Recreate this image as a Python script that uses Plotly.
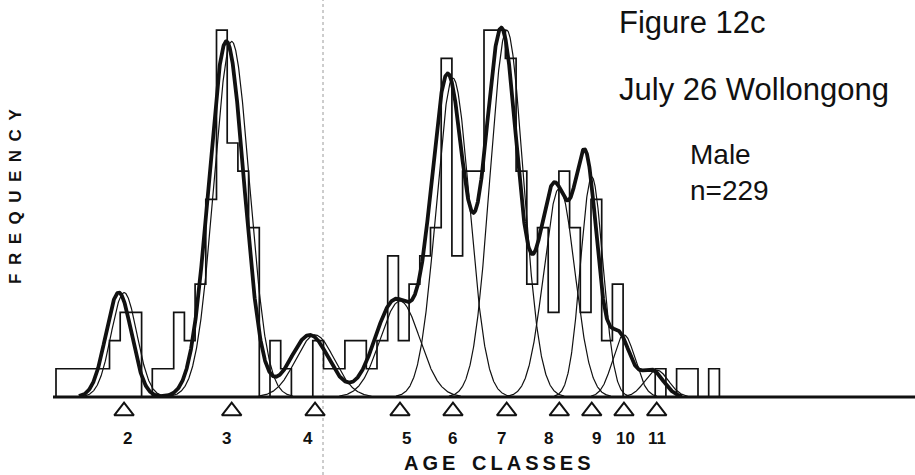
import numpy as np
import plotly.graph_objects as go

# Size-frequency counts, one value per size bin (bin k spans k .. k+1); n = 229
counts = [1, 1, 1, 1, 1, 2, 3, 3, 0, 1,
          1, 3, 2, 4, 7, 13, 9, 8, 6, 0,
          2, 1, 0, 0, 2, 1, 1, 2, 2, 1,
          2, 5, 2, 4, 5, 6, 12, 5, 8, 8,
          13, 13, 12, 8, 4, 6, 3, 8, 6, 3,
          7, 2, 4, 0, 0, 0, 1, 0, 1, 1,
          0, 1]

# Fitted normal components, one per age class
age_classes = ["2", "3", "4", "5", "6", "7", "8", "9", "10", "11"]
comp_mean = [6.36, 16.42, 24.21, 32.15, 37.10, 42.12, 47.04, 50.07, 53.08, 56.14]
comp_sd = [1.20, 1.65, 1.80, 1.85, 1.55, 1.55, 1.45, 1.05, 1.05, 1.10]
comp_peak = [3.7, 12.6, 2.2, 3.4, 11.3, 13.0, 7.4, 7.8, 2.2, 0.95]

INK = "#111111"
FONT = "Liberation Sans, Arial, Helvetica, sans-serif"
X_RANGE = [-0.28, 80.28]
Y_RANGE = [-2.764, 13.5]

fig = go.Figure()

# histogram drawn as a stepped outline
edges = np.arange(len(counts) + 1)
hx = [edges[0]] + list(edges[:-1]) + [edges[-1]]
hy = [0] + list(counts) + [0]
fig.add_trace(go.Scatter(x=hx, y=hy, mode="lines", line_shape="hv",
                         line=dict(color=INK, width=1.7), hoverinfo="skip"))

# individual components (thin) and their total (thick)
grid = np.linspace(0, 64, 2561)
total = np.zeros_like(grid)
for m, s, a in zip(comp_mean, comp_sd, comp_peak):
    g = a * np.exp(-0.5 * ((grid - m) / s) ** 2)
    total += g
    keep = g > 0.03
    fig.add_trace(go.Scatter(x=grid[keep], y=g[keep], mode="lines",
                             line=dict(color=INK, width=1.2), hoverinfo="skip"))

keep = total > 0.03
# total curve plotted against the lower edge of each bin
fig.add_trace(go.Scatter(x=grid[keep] - 0.5, y=total[keep], mode="lines",
                         line=dict(color=INK, width=3.8), hoverinfo="skip"))

# open triangles marking each component mean
fig.add_trace(go.Scatter(x=comp_mean, y=[-0.5] * len(comp_mean), mode="markers",
                         marker=dict(symbol="triangle-up-open", size=17,
                                     color=INK, line=dict(width=2, color=INK)),
                         hoverinfo="skip"))

label_nudge = [0.35, -0.47, -0.7, 0.56, 0.0, -0.47, -1.05, 0.47, 0.1, 0.0]
annotations = []
for lab, m, dx in zip(age_classes, comp_mean, label_nudge):
    annotations.append(dict(x=m + dx, y=-1.47, xref="x", yref="y", text=f"<b>{lab}</b>",
                            showarrow=False, font=dict(family=FONT, size=17, color=INK),
                            xanchor="center", yanchor="middle"))


def px_to_paper_x(px):
    return (px - 53) / 862


def px_to_paper_y(py):
    return (475 - py) / 459


texts = [
    ("Figure 12c", 617, 22.5, 31),
    ("July 26 Wollongong", 617, 90, 31),
]
for t, x, y, sz in texts:
    annotations.append(dict(x=px_to_paper_x(x), y=px_to_paper_y(y), xref="paper", yref="paper",
                            text=t, showarrow=False, xanchor="left", yanchor="middle",
                            font=dict(family=FONT, size=sz, color=INK)))
annotations.append(dict(x=px_to_paper_x(688), y=px_to_paper_y(172), xref="paper", yref="paper",
                        text=f"Male<br>n={sum(counts)}", showarrow=False, xanchor="left",
                        yanchor="middle", align="left",
                        font=dict(family=FONT, size=28, color=INK)))

gap = "\u2009"
word_gap = "\u00a0\u00a0\u00a0"
axis_title = word_gap.join(gap.join(word) for word in ["AGE", "CLASSES"])
annotations.append(dict(x=px_to_paper_x(402), y=px_to_paper_y(462.5), xref="paper", yref="paper",
                        text=f"<b>{axis_title}</b>",
                        showarrow=False, xanchor="left", yanchor="middle",
                        font=dict(family=FONT, size=20, color=INK)))
annotations.append(dict(x=px_to_paper_x(16), y=px_to_paper_y(197), xref="paper", yref="paper",
                        text="<b>" + "\u2002".join("FREQUENCY") + "</b>",
                        showarrow=False, textangle=-90, xanchor="center", yanchor="middle",
                        font=dict(family=FONT, size=17, color=INK)))

shapes = [
    # baseline
    dict(type="line", xref="paper", yref="y", x0=0, x1=1, y0=0, y1=0,
         line=dict(color=INK, width=3)),
    # faint vertical fold line
    dict(type="line", xref="paper", yref="paper", x0=px_to_paper_x(323), x1=px_to_paper_x(323),
         y0=0, y1=px_to_paper_y(0), line=dict(color="#9a9a9a", width=1, dash="dot"),
         layer="below"),
]

fig.update_layout(
    width=915, height=475,
    margin=dict(l=53, r=0, t=16, b=0),
    paper_bgcolor="white", plot_bgcolor="white",
    showlegend=False,
    xaxis=dict(range=X_RANGE, visible=False, fixedrange=True),
    yaxis=dict(range=Y_RANGE, visible=False, fixedrange=True),
    annotations=annotations,
    shapes=shapes,
)

fig.write_html("out.html")
